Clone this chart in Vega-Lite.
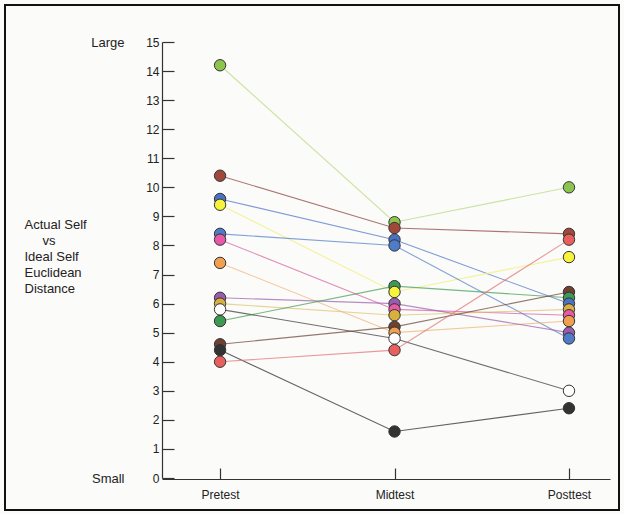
{
  "$schema": "https://vega.github.io/schema/vega-lite/v6.json",
  "width": 614,
  "height": 505,
  "autosize": {"type": "none"},
  "padding": {"left": 5, "top": 5, "right": 5, "bottom": 4},
  "background": "#fbfbf9",
  "config": {"view": {"stroke": "#111111", "strokeWidth": 2}, "font": "Liberation Sans"},
  "data": {"values": [
    {"series": "s01", "phase": "Pretest", "value": 14.2}, {"series": "s01", "phase": "Midtest", "value": 8.8}, {"series": "s01", "phase": "Posttest", "value": 10.0},
    {"series": "s02", "phase": "Pretest", "value": 10.4}, {"series": "s02", "phase": "Midtest", "value": 8.6}, {"series": "s02", "phase": "Posttest", "value": 8.4},
    {"series": "s03", "phase": "Pretest", "value": 9.6}, {"series": "s03", "phase": "Midtest", "value": 8.2}, {"series": "s03", "phase": "Posttest", "value": 6.0},
    {"series": "s04", "phase": "Pretest", "value": 9.4}, {"series": "s04", "phase": "Midtest", "value": 6.4}, {"series": "s04", "phase": "Posttest", "value": 7.6},
    {"series": "s05", "phase": "Pretest", "value": 8.4}, {"series": "s05", "phase": "Midtest", "value": 8.0}, {"series": "s05", "phase": "Posttest", "value": 4.8},
    {"series": "s06", "phase": "Pretest", "value": 8.2}, {"series": "s06", "phase": "Midtest", "value": 5.8}, {"series": "s06", "phase": "Posttest", "value": 5.6},
    {"series": "s07", "phase": "Pretest", "value": 7.4}, {"series": "s07", "phase": "Midtest", "value": 5.0}, {"series": "s07", "phase": "Posttest", "value": 5.4},
    {"series": "s08", "phase": "Pretest", "value": 6.2}, {"series": "s08", "phase": "Midtest", "value": 6.0}, {"series": "s08", "phase": "Posttest", "value": 5.0},
    {"series": "s09", "phase": "Pretest", "value": 6.0}, {"series": "s09", "phase": "Midtest", "value": 5.6}, {"series": "s09", "phase": "Posttest", "value": 5.8},
    {"series": "s10", "phase": "Pretest", "value": 5.8}, {"series": "s10", "phase": "Midtest", "value": 4.8}, {"series": "s10", "phase": "Posttest", "value": 3.0},
    {"series": "s11", "phase": "Pretest", "value": 5.4}, {"series": "s11", "phase": "Midtest", "value": 6.6}, {"series": "s11", "phase": "Posttest", "value": 6.2},
    {"series": "s12", "phase": "Pretest", "value": 4.6}, {"series": "s12", "phase": "Midtest", "value": 5.2}, {"series": "s12", "phase": "Posttest", "value": 6.4},
    {"series": "s13", "phase": "Pretest", "value": 4.4}, {"series": "s13", "phase": "Midtest", "value": 1.6}, {"series": "s13", "phase": "Posttest", "value": 2.4},
    {"series": "s14", "phase": "Pretest", "value": 4.0}, {"series": "s14", "phase": "Midtest", "value": 4.4}, {"series": "s14", "phase": "Posttest", "value": 8.2}
  ]},
  "encoding": {
    "x": {
      "field": "phase", "type": "ordinal",
      "sort": ["Pretest", "Midtest", "Posttest"],
      "scale": {"type": "point", "range": [157, 605], "padding": 0.284, "align": 0.586},
      "axis": {
        "orient": "bottom", "offset": -31, "tickSize": -11, "labelPadding": 21,
        "labelAngle": 0, "title": null, "labelFontSize": 12, "labelColor": "#222222",
        "domainColor": "#333333", "tickColor": "#333333", "domainWidth": 1.2, "tickWidth": 1.2
      }
    }
  },
  "layer": [
    {
      "mark": {"type": "line", "strokeWidth": 1.1, "opacity": 0.7},
      "encoding": {
        "y": {
          "field": "value", "type": "quantitative",
          "scale": {"domain": [0, 15], "range": [473, 37], "nice": false, "zero": false},
          "axis": {
            "orient": "left", "offset": -157, "values": [0,1,2,3,4,5,6,7,8,9,10,11,12,13,14,15],
            "tickSize": -12, "labelPadding": 15, "grid": false,
            "labelFontSize": 12, "labelColor": "#222222",
            "domainColor": "#333333", "tickColor": "#333333", "domainWidth": 1.2, "tickWidth": 1.2,
            "title": ["Actual Self", "\u200b\u00a0\u00a0\u00a0\u00a0\u00a0vs", "Ideal Self", "Euclidean", "Distance"],
            "titleAngle": 0, "titleAlign": "left", "titleBaseline": "top",
            "titleX": -138, "titleY": 213, "titleFontSize": 13, "titleFontWeight": "normal",
            "titleLineHeight": 16, "titleColor": "#222222"
          }
        },
        "stroke": {
          "field": "series", "type": "nominal", "legend": null,
          "scale": {
            "domain": ["s01","s02","s03","s04","s05","s06","s07","s08","s09","s10","s11","s12","s13","s14"],
            "range": ["#b5d97a","#8a3f3a","#4a72c4","#f2ee70","#4f7cc8","#d45aa0","#f0b070","#9a5cae","#e0c070","#333333","#3e9a52","#6a4030","#222222","#e07070"]
          }
        }
      }
    },
    {
      "mark": {"type": "circle", "size": 130, "stroke": "#333333", "strokeWidth": 1, "opacity": 1},
      "encoding": {
        "y": {
          "field": "value", "type": "quantitative",
          "scale": {"domain": [0, 15], "range": [473, 37], "nice": false, "zero": false},
          "axis": {
            "orient": "left", "offset": -119, "values": [0, 15],
            "ticks": false, "domain": false, "tickSize": 0, "labelPadding": 0, "grid": false,
            "labelExpr": "datum.value == 15 ? 'Large' : 'Small'",
            "labelFontSize": 13, "labelColor": "#222222", "title": null
          }
        },
        "fill": {
          "field": "series", "type": "nominal", "legend": null,
          "scale": {
            "domain": ["s01","s02","s03","s04","s05","s06","s07","s08","s09","s10","s11","s12","s13","s14"],
            "range": ["#8dc44e","#a0493b","#4a72c4","#f7f23c","#4f7cc8","#e85aa8","#f0a050","#9a5cae","#d9b03e","#ffffff","#3e9a52","#704030","#333333","#e8605e"]
          }
        },
        "order": {"field": "value", "sort": "descending"}
      }
    }
  ],
  "resolve": {"axis": {"y": "independent"}}
}
